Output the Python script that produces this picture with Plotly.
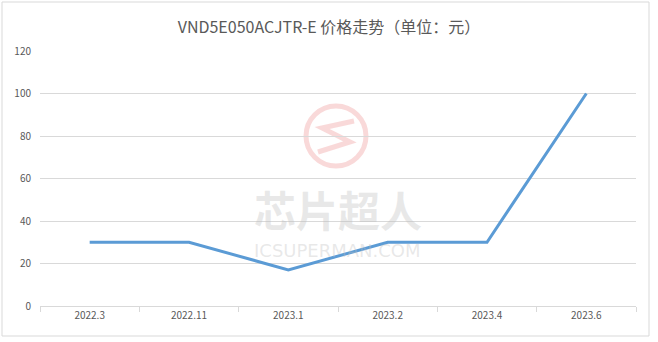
import plotly.graph_objects as go

categories = ["2022.3", "2022.11", "2023.1", "2023.2", "2023.4", "2023.6"]
prices = [30, 30, 17, 30, 30, 100]
y_ticks = [0, 20, 40, 60, 80, 100, 120]
title_text = "VND5E050ACJTR-E 价格走势（单位：元）"

W, H = 658, 342
L, R, T, B = 40, 22, 51, 36
pw, ph = W - L - R, H - T - B

def px_x(x):
    return (x - L) / pw

def px_y(y):
    return (H - B - y) / ph

def path_px(points):
    return "M " + " L ".join(f"{px_x(x):.4f},{px_y(y):.4f}" for x, y in points)

fig = go.Figure()
fig.add_trace(go.Scatter(
    x=categories, y=prices, mode="lines",
    line=dict(color="#5b9bd5", width=3),
    hoverinfo="x+y",
))

font_family = "Microsoft YaHei, Noto Sans CJK SC, sans-serif"
wm_red = "rgba(232,120,120,0.28)"
wm_gray = "rgba(190,190,190,0.35)"

fig.update_layout(
    width=W, height=H,
    margin=dict(l=L, r=R, t=T, b=B),
    paper_bgcolor="white", plot_bgcolor="white",
    showlegend=False,
    title=dict(text=title_text, x=0.5, xanchor="center", y=1 - 27 / H, yanchor="middle",
               font=dict(size=16, color="#595959", family=font_family)),
    xaxis=dict(
        type="category", range=[-0.5, 5.5],
        showgrid=False, showline=True, linecolor="#d9d9d9", linewidth=1,
        ticks="outside", tickson="boundaries", ticklen=5, tickcolor="#d9d9d9",
        tickfont=dict(size=10, color="#595959", family=font_family),
        zeroline=False,
    ),
    yaxis=dict(
        range=[0, 120], tickvals=y_ticks,
        showgrid=True, gridcolor="#d9d9d9", gridwidth=1,
        showline=False, zeroline=False, ticks="", ticklabelstandoff=8,
        tickfont=dict(size=10, color="#595959", family=font_family),
    ),
    shapes=[
        dict(type="rect", xref="paper", yref="paper",
             x0=px_x(2), x1=px_x(649), y0=px_y(336), y1=px_y(2),
             line=dict(color="#d9d9d9", width=1), fillcolor="rgba(0,0,0,0)", layer="below"),
        dict(type="circle", xref="paper", yref="paper",
             x0=px_x(306), x1=px_x(366), y0=px_y(166), y1=px_y(106),
             line=dict(color=wm_red, width=5), layer="below"),
        dict(type="path", xref="paper", yref="paper",
             path=path_px([(354, 121), (322, 128), (350, 142), (318, 152)]),
             line=dict(color=wm_red, width=5), layer="below"),
    ],
    annotations=[
        dict(text="<b>芯片超人</b>", xref="paper", yref="paper", x=px_x(338), y=px_y(208),
             showarrow=False, font=dict(size=42, color=wm_gray, family=font_family),
             xanchor="center", yanchor="middle"),
        dict(text="ICSUPERMAN.COM", xref="paper", yref="paper", x=px_x(337), y=px_y(250),
             showarrow=False, font=dict(size=18, color=wm_gray, family="DejaVu Sans, sans-serif"),
             xanchor="center", yanchor="middle"),
    ],
)

fig.write_html("out.html")
